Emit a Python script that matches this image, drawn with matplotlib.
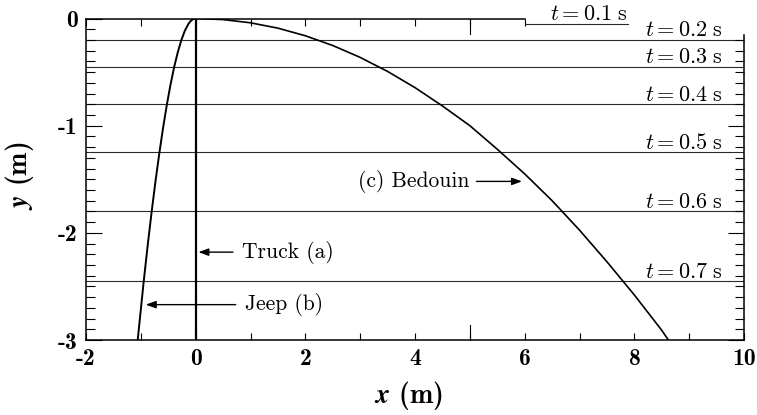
import matplotlib
matplotlib.use('Agg')
import matplotlib.pyplot as plt
from matplotlib.ticker import MultipleLocator
import matplotlib.transforms as mtransforms

plt.rcParams['mathtext.fontset'] = 'cm'
plt.rcParams['axes.unicode_minus'] = False

# ---- data ----
times = [0.1, 0.2, 0.3, 0.4, 0.5, 0.6, 0.7]
fall_y = [-0.05, -0.2, -0.45, -0.8, -1.25, -1.8, -2.45]
t01_span = [6.0, 7.89]          # short line under the t = 0.1 s label
t_label_x = 9.62                # right edge of the t-labels (t >= 0.2)

truck_x = [0.0, 0.0]
truck_y = [0.0, -3.0]

jeep_x = [0.0, -0.033, -0.066, -0.099, -0.132, -0.196, -0.26, -0.325, -0.391, -0.457,
          -0.524, -0.592, -0.661, -0.731, -0.802, -0.874, -0.947, -1.057]
jeep_y = [0.0, -0.003, -0.0125, -0.028, -0.05, -0.1125, -0.2, -0.3125, -0.45, -0.6125,
          -0.8, -1.0125, -1.25, -1.5125, -1.8, -2.1125, -2.45, -3.0]

bedouin_x = [0.0, 0.5, 1.0, 1.5, 2.0, 2.5, 3.0, 3.5, 4.0, 4.5, 5.0, 5.5, 6.0, 6.5,
             7.0, 7.5, 8.0, 8.5, 8.62]
bedouin_y = [0.0, -0.01, -0.04, -0.09, -0.161, -0.252, -0.363, -0.494, -0.645, -0.816,
             -1.0, -1.22, -1.45, -1.70, -1.975, -2.27, -2.58, -2.91, -3.0]

labels = ['Truck (a)', 'Jeep (b)', '(c) Bedouin']
label_xy = [(0.84, -2.18), (0.90, -2.67), (5.0, -1.52)]
label_ha = ['left', 'left', 'right']
arrow_tail = [(0.68, -2.18), (0.73, -2.67), (5.12, -1.52)]
arrow_head = [(0.05, -2.18), (-0.91, -2.67), (5.95, -1.52)]

xtick_vals = [-2, 0, 2, 4, 6, 8, 10]
xtick_text = ['-2', '0', '2', '4', '6', '8', '10']
ytick_vals = [0, -1, -2, -3]
ytick_text = ['0', '-1', '-2', '-3']
long_xticks = [5]

# ---- figure ----
fig = plt.figure(figsize=(7.57, 4.15), dpi=100)
ax = fig.add_axes([0.1136, 0.1807, 0.8693, 0.7747])
ax.set_xlim(-2, 10)
ax.set_ylim(-3, 0)

for t, h in zip(times[1:], fall_y[1:]):
    ax.axhline(h, color='#2a2a2a', lw=0.8, zorder=1)
    ax.annotate(r'$t = %.1f\ \mathrm{s}$' % t, xy=(t_label_x, h), xytext=(0, 2.5),
                textcoords='offset points', ha='right', va='baseline', fontsize=16)
ax.plot(t01_span, [fall_y[0], fall_y[0]], color='#2a2a2a', lw=0.8, zorder=1)
ax.annotate(r'$t = %.1f\ \mathrm{s}$' % times[0], xy=(t01_span[1], fall_y[0]), xytext=(0, 2.5),
            textcoords='offset points', ha='right', va='baseline', fontsize=16,
            annotation_clip=False)

ax.plot(truck_x, truck_y, color='black', lw=1.6, zorder=3)
ax.plot(jeep_x, jeep_y, color='black', lw=1.4, zorder=3, solid_joinstyle='round')
ax.plot(bedouin_x, bedouin_y, color='black', lw=1.2, zorder=3, solid_joinstyle='round')

for lab, xy, ha, tail, head in zip(labels, label_xy, label_ha, arrow_tail, arrow_head):
    ax.text(xy[0], xy[1], lab, ha=ha, va='center', fontsize=15.5, fontfamily='cmr10')
    ax.annotate('', xy=head, xytext=tail,
                arrowprops=dict(arrowstyle='-|>,head_length=0.6,head_width=0.22',
                                color='black', lw=1.0, shrinkA=0, shrinkB=0))

# spines
for s in ax.spines.values():
    s.set_linewidth(1.1)
ax.spines['top'].set_bounds(-2, 6)
ax.spines['right'].set_bounds(-3, -0.15)

# ticks
ax.set_xticks(xtick_vals)
ax.set_xticklabels(xtick_text)
ax.xaxis.set_minor_locator(MultipleLocator(1))
ax.set_yticks(ytick_vals)
ax.set_yticklabels(ytick_text)
ax.yaxis.set_minor_locator(MultipleLocator(0.1))
ax.tick_params(axis='x', which='both', direction='in', top=True, bottom=True,
               length=5, width=0.8, pad=6)
ax.tick_params(axis='y', which='major', direction='in', left=True, right=True,
               length=11.5, width=0.8, pad=6)
ax.tick_params(axis='y', which='minor', direction='in', left=True, right=True,
               length=6.5, width=0.8)
for lbl in ax.get_xticklabels() + ax.get_yticklabels():
    lbl.set_fontfamily('cmb10')
    lbl.set_fontsize(17)

trans = mtransforms.blended_transform_factory(ax.transData, ax.transAxes)
for xv in long_xticks:
    ax.plot([xv, xv], [0, 0.047], color='black', lw=0.8, transform=trans, clip_on=False)
    ax.plot([xv, xv], [1, 0.953], color='black', lw=0.8, transform=trans, clip_on=False)

# hide tick marks where the spine is absent
for which in ('major', 'minor'):
    locs = ax.xaxis.get_majorticklocs() if which == 'major' else ax.xaxis.get_minorticklocs()
    ticks = ax.xaxis.get_major_ticks(len(locs)) if which == 'major' else ax.xaxis.get_minor_ticks(len(locs))
    for loc, tk in zip(locs, ticks):
        if loc > 6.5:
            tk.tick2line.set_visible(False)
    locs = ax.yaxis.get_majorticklocs() if which == 'major' else ax.yaxis.get_minorticklocs()
    ticks = ax.yaxis.get_major_ticks(len(locs)) if which == 'major' else ax.yaxis.get_minor_ticks(len(locs))
    for loc, tk in zip(locs, ticks):
        if loc > -0.15:
            tk.tick2line.set_visible(False)

ax.set_xlabel(r'$\boldsymbol{x}$ (m)', fontsize=20, fontfamily='cmb10')
ax.xaxis.set_label_coords(0.49, -0.12)
ax.set_ylabel(r'$\boldsymbol{y}$ (m)', fontsize=20, fontfamily='cmb10')
ax.yaxis.set_label_coords(-0.076, 0.51)

fig.savefig('out.png', dpi=100)
